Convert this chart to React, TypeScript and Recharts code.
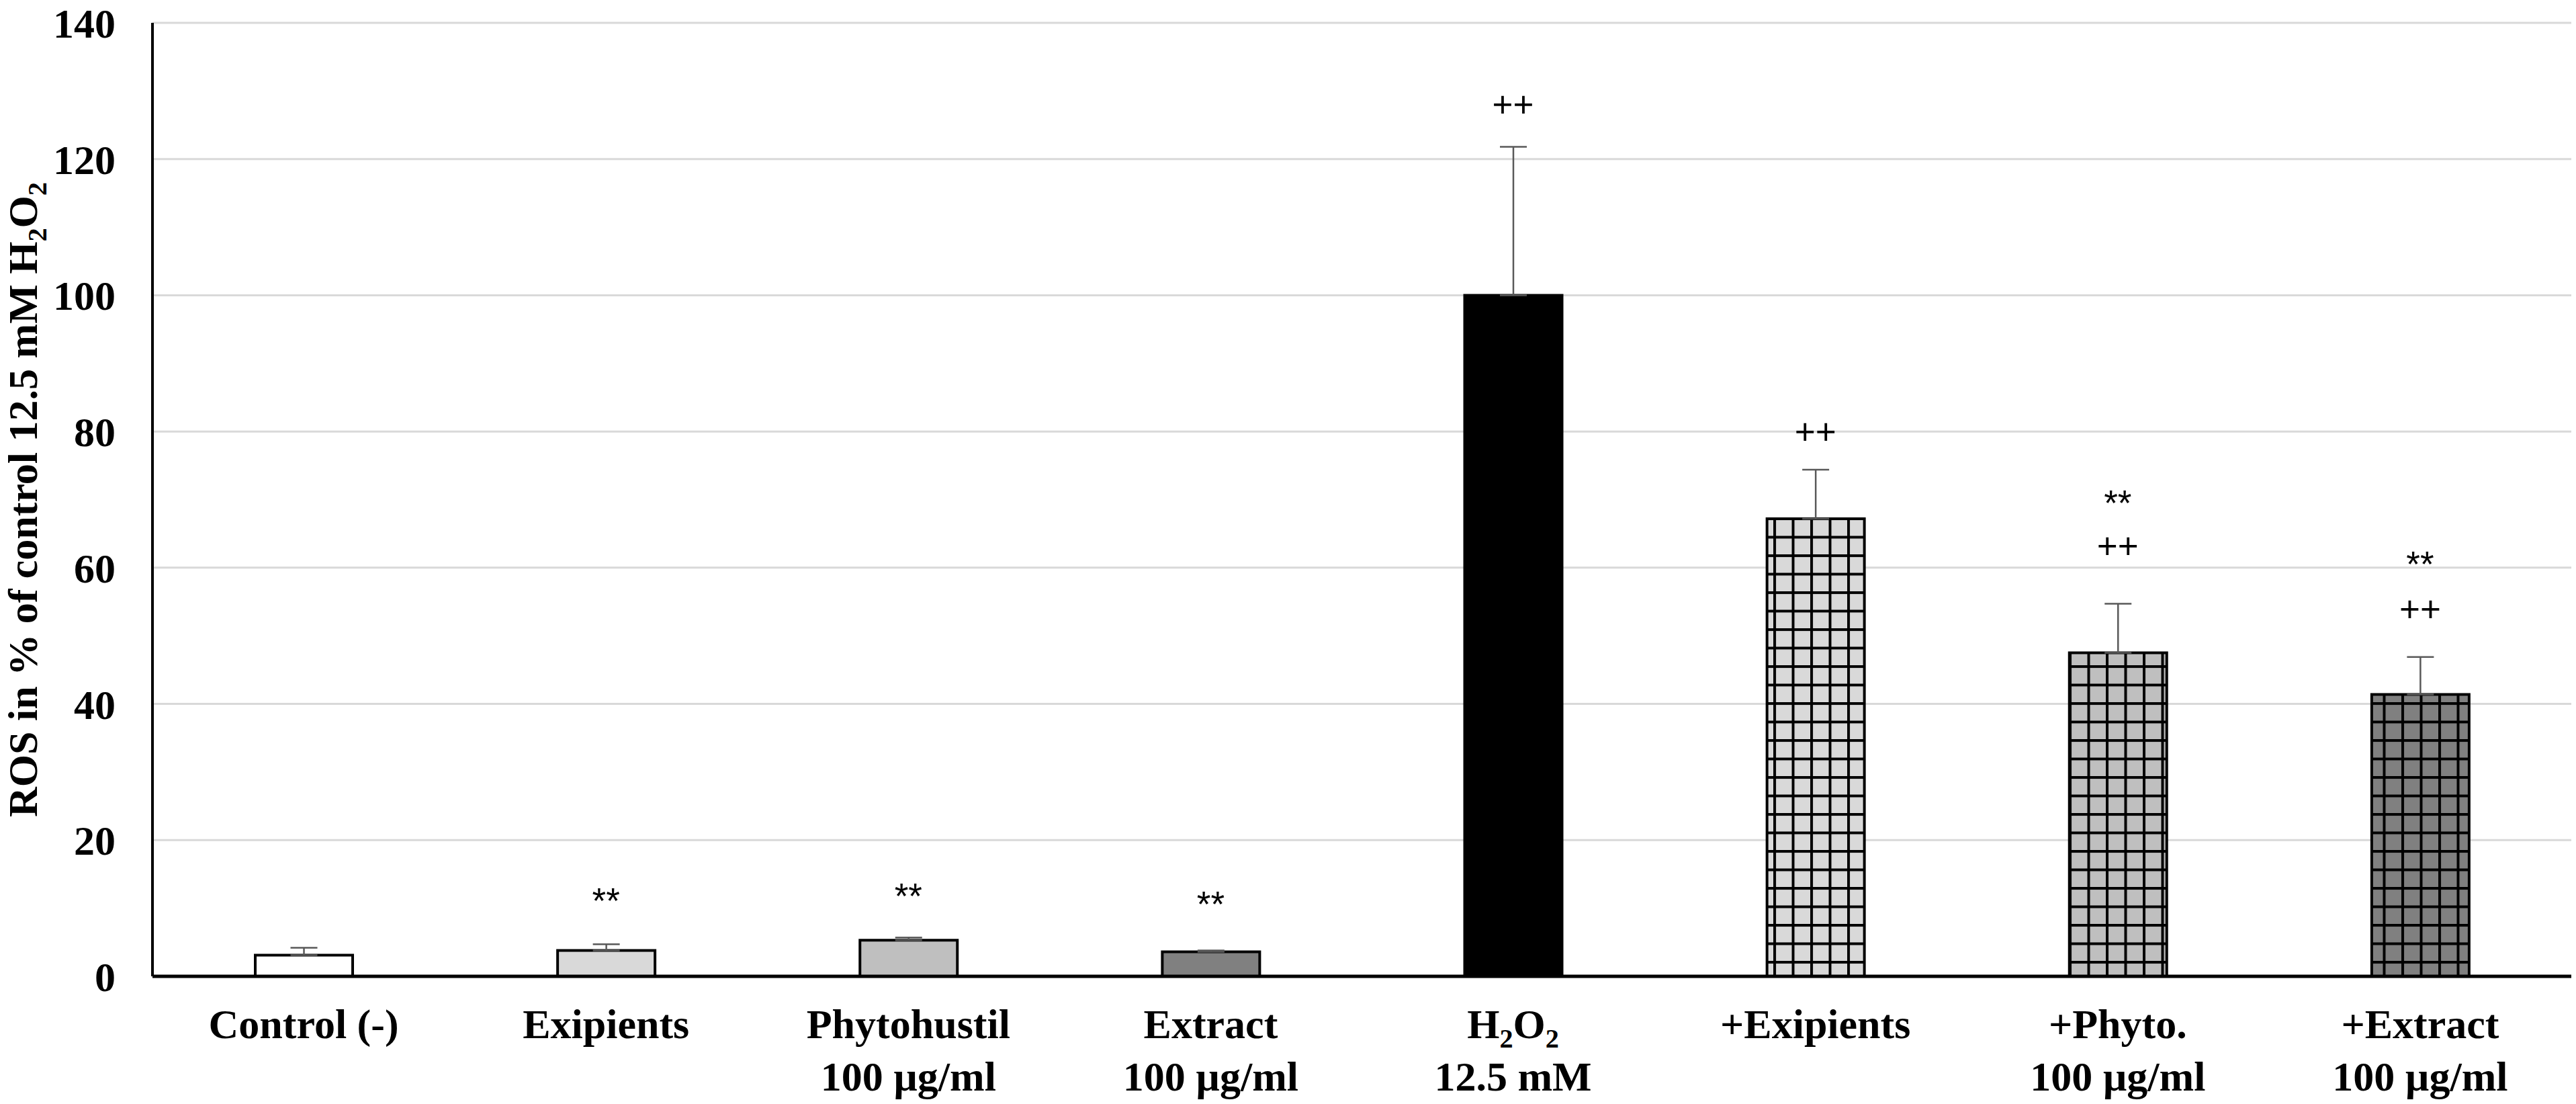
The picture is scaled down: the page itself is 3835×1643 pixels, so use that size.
import React from 'react';
import { ComposedChart, Bar, Cell, XAxis, YAxis, CartesianGrid, ErrorBar, Scatter } from 'recharts';

// ---- data ----
const categories = ['Control (-)', 'Exipients', 'Phytohustil', 'Extract', 'H_2O_2', '+Exipients', '+Phyto.', '+Extract'];
const subLabels = ['', '', '100 µg/ml', '100 µg/ml', '12.5 mM', '', '100 µg/ml', '100 µg/ml'];
const rosValues = [3.1, 3.8, 5.3, 3.6, 100, 67.2, 47.5, 41.4];
const rosErrors = [1.1, 0.9, 0.4, 0.2, 21.8, 7.2, 7.2, 5.5];
const starMarks: (number | null)[] = [null, 12.2, 12.9, 11.7, null, null, 70.6, 61.7];
const plusMarks: (number | null)[] = [null, null, null, null, 128.0, 79.9, 63.1, 53.9];
const yTicks = [0, 20, 40, 60, 80, 100, 120, 140];
const yLabelText = 'ROS in % of control 12.5 mM H_2O_2';

// ---- styles ----
const barFills = ['#ffffff', '#d9d9d9', '#bfbfbf', '#808080', '#000000', 'url(#gridLight)', 'url(#gridMid)', 'url(#gridDark)'];
const patternDefs: [string, string][] = [
  ['gridLight', '#d9d9d9'],
  ['gridMid', '#bfbfbf'],
  ['gridDark', '#808080'],
];
const SERIF = '"Liberation Serif", "Times New Roman", serif';
const SANS = '"Liberation Sans", Arial, sans-serif';
const FS = 62;

const chartData = categories.map((c, i) => ({
  name: c,
  ros: rosValues[i],
  err: [0, rosErrors[i]],
  star: starMarks[i],
  plus: plusMarks[i],
}));

function renderRich(text: string, fontSize: number) {
  const parts = text.split(/(_\d)/).filter((p) => p.length > 0);
  let shifted = false;
  return parts.map((p, i) => {
    if (p.startsWith('_')) {
      const el = (
        <tspan key={i} dy={fontSize * 0.22} fontSize={fontSize * 0.65}>
          {p.slice(1)}
        </tspan>
      );
      shifted = true;
      return el;
    }
    const el = (
      <tspan key={i} dy={shifted ? -fontSize * 0.22 : 0}>
        {p}
      </tspan>
    );
    shifted = false;
    return el;
  });
}

const XTick = (props: any) => {
  const { x, y, payload } = props;
  const i = categories.indexOf(payload.value);
  return (
    <g>
      <text x={x} y={y + 92} textAnchor="middle" fontFamily={SERIF} fontWeight={700} fontSize={FS} fill="#000">
        {renderRich(payload.value, FS)}
      </text>
      {subLabels[i] ? (
        <text x={x} y={y + 170} textAnchor="middle" fontFamily={SERIF} fontWeight={700} fontSize={FS} fill="#000">
          {subLabels[i]}
        </text>
      ) : null}
    </g>
  );
};

const YLabel = (props: any) => {
  const vb = props.viewBox || {};
  const cy = (vb.y ?? 29) + (vb.height ?? 1424) / 2;
  const lx = 55;
  return (
    <text
      x={lx}
      y={cy}
      transform={`rotate(-90, ${lx}, ${cy})`}
      textAnchor="middle"
      fontFamily={SERIF}
      fontWeight={700}
      fontSize={FS}
      fill="#000"
    >
      {renderRich(yLabelText, FS)}
    </text>
  );
};

const markShape = (key: 'star' | 'plus', symbol: string, dy: number) => (props: any) => {
  const { cx, cy, payload } = props;
  if (!payload || payload[key] == null || cx == null || cy == null || Number.isNaN(cy)) return <g />;
  return (
    <text x={cx} y={cy + dy} textAnchor="middle" fontFamily={SANS} fontSize={53} fill="#000">
      {symbol}
    </text>
  );
};

export default function App() {
  return (
    <div style={{ position: 'absolute', left: 0, top: 0, width: 3835, height: 1643, background: '#fff' }}>
      <ComposedChart
        width={3835}
        height={1643}
        data={chartData}
        margin={{ top: 34, right: 7, left: 0, bottom: 0 }}
      >
        <defs>
          {patternDefs.map(([id, c]) => (
            <pattern id={id} key={id} width={27.5} height={27.5} patternUnits="userSpaceOnUse">
              <rect x={0} y={0} width={27.5} height={27.5} fill={c} />
              <rect x={0} y={0} width={4} height={27.5} fill="#000" />
              <rect x={0} y={0} width={27.5} height={4} fill="#000" />
            </pattern>
          ))}
        </defs>
        <CartesianGrid vertical={false} stroke="#d9d9d9" strokeWidth={3} />
        <XAxis
          dataKey="name"
          type="category"
          height={190}
          interval={0}
          tickLine={false}
          tickSize={0}
          tickMargin={0}
          axisLine={{ stroke: '#000', strokeWidth: 5 }}
          tick={<XTick />}
        />
        <YAxis
          type="number"
          domain={[0, 140]}
          ticks={yTicks}
          width={227}
          interval={0}
          tickLine={false}
          tickSize={0}
          tickMargin={55}
          axisLine={{ stroke: '#000', strokeWidth: 4 }}
          tick={{ fontSize: FS, fontWeight: 700, fill: '#000', fontFamily: SERIF }}
          label={{ content: <YLabel /> }}
        />
        <Bar dataKey="ros" barSize={145} stroke="#000" strokeWidth={4} isAnimationActive={false}>
          {chartData.map((d, i) => (
            <Cell key={d.name} fill={barFills[i]} />
          ))}
          <ErrorBar dataKey="err" direction="y" width={20} stroke="#595959" strokeWidth={2.5} />
        </Bar>
        <Scatter dataKey="star" isAnimationActive={false} shape={markShape('star', '**', 30)} />
        <Scatter dataKey="plus" isAnimationActive={false} shape={markShape('plus', '++', 18)} />
      </ComposedChart>
    </div>
  );
}
